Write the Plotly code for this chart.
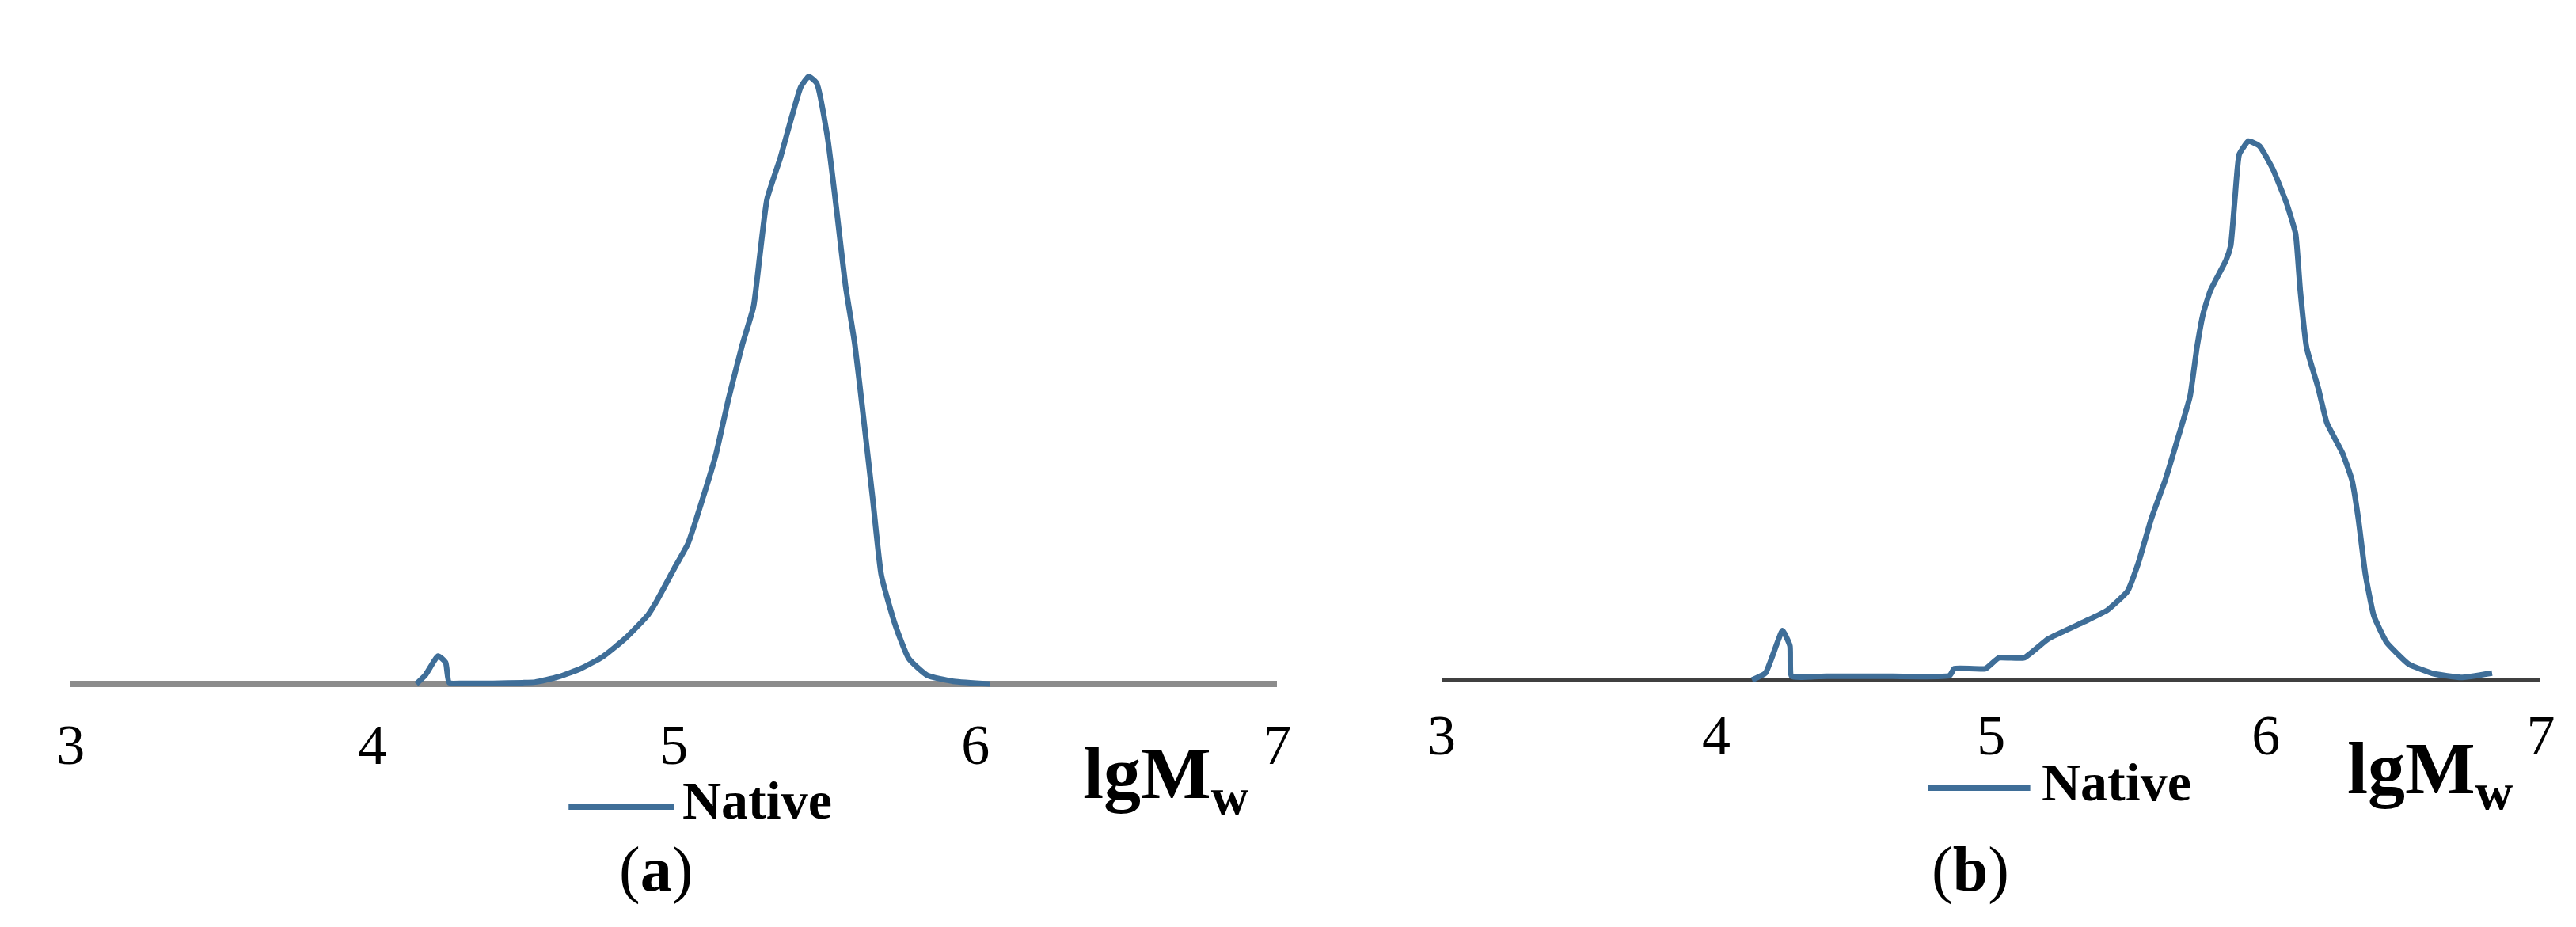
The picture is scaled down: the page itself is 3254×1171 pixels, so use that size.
import plotly.graph_objects as go

W, H = 3254, 1171

# ---- data ----
lgmw_a = [4.146, 4.176, 4.218, 4.243, 4.255, 4.30, 4.40, 4.50, 4.54, 4.615, 4.69, 4.764, 4.839, 4.914,
          4.943, 5.003, 5.047, 5.093, 5.138, 5.182, 5.227, 5.264, 5.286, 5.309, 5.353, 5.391, 5.421,
          5.447, 5.473, 5.509, 5.540, 5.569, 5.600, 5.629, 5.660, 5.688, 5.734, 5.779, 5.839, 5.927, 6.047]
native_a = [0.0, 0.014, 0.044, 0.034, 0.002, 0.001, 0.001, 0.002, 0.003, 0.011, 0.024, 0.043, 0.072, 0.109,
            0.131, 0.184, 0.222, 0.289, 0.360, 0.452, 0.536, 0.596, 0.681, 0.766, 0.831, 0.896, 0.943,
            0.959, 0.949, 0.864, 0.746, 0.629, 0.536, 0.419, 0.289, 0.171, 0.093, 0.040, 0.014, 0.004, 0.0]

lgmw_b = [4.130, 4.179, 4.241, 4.268, 4.274, 4.40, 4.60, 4.849, 4.866, 4.980, 5.028, 5.120, 5.208, 5.339,
          5.422, 5.496, 5.536, 5.584, 5.634, 5.684, 5.724, 5.749, 5.772, 5.798, 5.855, 5.872, 5.887,
          5.903, 5.937, 5.977, 6.026, 6.075, 6.108, 6.125, 6.148, 6.191, 6.222, 6.279, 6.313, 6.336,
          6.362, 6.393, 6.44, 6.52, 6.61, 6.71, 6.823]
native_b = [0.0, 0.011, 0.078, 0.054, 0.006, 0.006, 0.006, 0.007, 0.018, 0.018, 0.035, 0.035, 0.065, 0.092,
            0.110, 0.140, 0.185, 0.256, 0.316, 0.388, 0.448, 0.525, 0.579, 0.615, 0.663, 0.686, 0.759,
            0.830, 0.851, 0.843, 0.806, 0.753, 0.705, 0.615, 0.525, 0.460, 0.406, 0.358, 0.316, 0.256,
            0.167, 0.101, 0.059, 0.025, 0.010, 0.004, 0.011]

tick_vals = [3, 4, 5, 6, 7]
tick_text = ["3", "4", "5", "6", "7"]
series_name = "Native"
x_title = "<b>lgM<sub>w</sub></b>"
panel_labels = ["(<b>a</b>)", "(<b>b</b>)"]

# ---- style ----
BLUE = "#3F6E98"
FONT = "Liberation Serif"


def px(x):
    return x / W


def py(y):
    return (H - y) / H


fig = go.Figure()
fig.add_trace(go.Scatter(x=lgmw_a, y=native_a, mode="lines", name=series_name,
                         line=dict(color=BLUE, width=7, shape="spline", smoothing=0.5),
                         xaxis="x", yaxis="y", showlegend=False))
fig.add_trace(go.Scatter(x=lgmw_b, y=native_b, mode="lines", name=series_name,
                         line=dict(color=BLUE, width=7, shape="spline", smoothing=0.4),
                         xaxis="x2", yaxis="y2", showlegend=False))

xcommon = dict(range=[3, 7], tickmode="array", tickvals=tick_vals, ticktext=tick_text,
               showgrid=False, zeroline=False, showline=False, ticks="",
               tickfont=dict(family=FONT, size=72, color="black"))
fig.update_layout(
    width=W, height=H, margin=dict(l=0, r=0, t=0, b=0),
    paper_bgcolor="white", plot_bgcolor="white",
    xaxis=dict(domain=[px(64), px(1605)], anchor="y", ticklabelstandoff=12, **xcommon),
    xaxis2=dict(domain=[px(1815), px(3219)], anchor="y2", ticklabelstandoff=5, **xcommon),
    yaxis=dict(domain=[py(872), py(56)], range=[-0.02, 1.0], showticklabels=False, showgrid=False,
               zeroline=True, zerolinecolor="#8C8C8C", zerolinewidth=8, showline=False, ticks=""),
    yaxis2=dict(domain=[py(867), py(51)], range=[-0.02, 1.0], showticklabels=False, showgrid=False,
                zeroline=True, zerolinecolor="#404040", zerolinewidth=5, showline=False, ticks=""),
    showlegend=False,
)

# axis titles
fig.add_annotation(text=x_title, xref="paper", yref="paper", x=px(1355), y=py(975),
                   xanchor="left", yanchor="middle", showarrow=False,
                   font=dict(family=FONT, size=94, color="black"))
fig.add_annotation(text=x_title, xref="paper", yref="paper", x=px(2970), y=py(969),
                   xanchor="left", yanchor="middle", showarrow=False,
                   font=dict(family=FONT, size=94, color="black"))

# legends (key line + label)
for (x0, x1, ly, tx, ty) in [(700, 835, 1011, 843, 1003), (2436, 2567, 987, 2580, 980)]:
    fig.add_shape(type="line", xref="paper", yref="paper", x0=px(x0), x1=px(x1), y0=py(ly), y1=py(ly),
                  line=dict(color=BLUE, width=8))
    fig.add_annotation(text="<b>" + series_name + "</b>", xref="paper", yref="paper", x=px(tx), y=py(ty),
                       xanchor="left", yanchor="middle", showarrow=False,
                       font=dict(family=FONT, size=68, color="black"))

# panel labels
for lab, cx in zip(panel_labels, [811, 2491]):
    fig.add_annotation(text=lab, xref="paper", yref="paper", x=px(cx), y=py(1090),
                       xanchor="center", yanchor="middle", showarrow=False,
                       font=dict(family=FONT, size=80, color="black"))

fig.write_html("out.html")
